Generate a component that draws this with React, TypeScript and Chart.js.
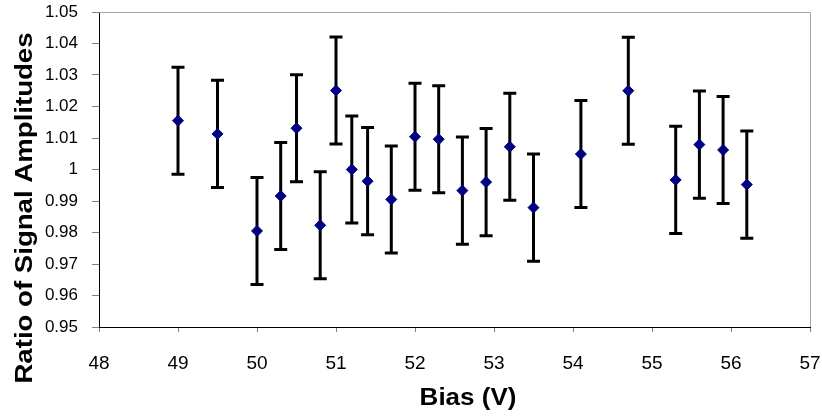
import React, { useEffect, useRef } from "react";
import { Chart, registerables } from "chart.js";

Chart.register(...registerables);

const biasValues = [49, 49.5, 50, 50.3, 50.5, 50.8, 51, 51.2, 51.4, 51.7, 52, 52.3, 52.6, 52.9, 53.2, 53.5, 54.1, 54.7, 55.3, 55.6, 55.9, 56.2];
const ratioValues = [1.0155, 1.0113, 0.9805, 0.9916, 1.0131, 0.9823, 1.0251, 1.0, 0.9963, 0.9905, 1.0104, 1.0096, 0.9933, 0.996, 1.0072, 0.9879, 1.0049, 1.025, 0.9967, 1.0079, 1.0062, 0.9952];
const ratioErrors = [0.017, 0.017, 0.017, 0.017, 0.017, 0.017, 0.017, 0.017, 0.017, 0.017, 0.017, 0.017, 0.017, 0.017, 0.017, 0.017, 0.017, 0.017, 0.017, 0.017, 0.017, 0.017];
const xTickValues = [48, 49, 50, 51, 52, 53, 54, 55, 56, 57];
const yTickValues = [0.95, 0.96, 0.97, 0.98, 0.99, 1.0, 1.01, 1.02, 1.03, 1.04, 1.05];
const xTitle = "Bias (V)";
const yTitle = "Ratio of Signal Amplitudes";

const FONT = '"Liberation Sans", Arial, Helvetica, sans-serif';

const errorBarPlugin = {
  id: "errorBars",
  beforeDatasetsDraw(chart: any) {
    const ctx = chart.ctx;
    const xs = chart.scales.x;
    const ys = chart.scales.y;
    ctx.save();
    ctx.strokeStyle = "#000000";
    ctx.lineWidth = 3;
    ctx.lineCap = "butt";
    for (let i = 0; i < biasValues.length; i++) {
      const px = xs.getPixelForValue(biasValues[i]);
      const top = ys.getPixelForValue(ratioValues[i] + ratioErrors[i]);
      const bot = ys.getPixelForValue(ratioValues[i] - ratioErrors[i]);
      ctx.beginPath();
      ctx.moveTo(px, top);
      ctx.lineTo(px, bot);
      ctx.moveTo(px - 6.5, top);
      ctx.lineTo(px + 6.5, top);
      ctx.moveTo(px - 6.5, bot);
      ctx.lineTo(px + 6.5, bot);
      ctx.stroke();
    }
    ctx.restore();
  },
};

const framePlugin = {
  id: "frameAndTitles",
  afterDraw(chart: any) {
    const ctx = chart.ctx;
    const a = chart.chartArea;
    ctx.save();
    ctx.strokeStyle = "#a6a6a6";
    ctx.lineWidth = 1;
    ctx.beginPath();
    ctx.moveTo(a.left, a.top + 0.5);
    ctx.lineTo(a.right + 0.5, a.top + 0.5);
    ctx.lineTo(a.right + 0.5, a.bottom);
    ctx.stroke();

    ctx.fillStyle = "#000000";
    ctx.font = "bold 23px " + FONT;
    ctx.textAlign = "center";
    ctx.textBaseline = "alphabetic";
    // x title
    ctx.save();
    ctx.translate(468, 405);
    ctx.scale(1.13, 1);
    ctx.fillText(xTitle, 0, 0);
    ctx.restore();
    // y title
    ctx.save();
    ctx.translate(32, 208);
    ctx.rotate(-Math.PI / 2);
    ctx.scale(1.2, 1);
    ctx.fillText(yTitle, 0, 0);
    ctx.restore();
    ctx.restore();
  },
};

const zeroPadding = (scale: any) => {
  scale.paddingTop = 0;
  scale.paddingBottom = 0;
  scale.paddingLeft = 0;
  scale.paddingRight = 0;
};

export default function App() {
  const canvasRef = useRef<HTMLCanvasElement>(null);

  useEffect(() => {
    document.body.style.margin = "0";
    const canvas = canvasRef.current;
    if (!canvas) return;
    const chart = new Chart(canvas, {
      type: "scatter",
      data: {
        datasets: [
          {
            label: "Ratio",
            data: biasValues.map((x, i) => ({ x, y: ratioValues[i] })),
            pointStyle: "rectRot",
            pointRadius: 5.5,
            pointHoverRadius: 5.5,
            backgroundColor: "#000080",
            borderColor: "#000080",
            borderWidth: 1,
            showLine: false,
          },
        ],
      },
      options: {
        responsive: false,
        animation: false,
        devicePixelRatio: 1,
        layout: { padding: { left: 0, top: 12, right: 12, bottom: 0 } },
        plugins: {
          legend: { display: false },
          tooltip: { enabled: false },
          title: { display: false },
        },
        scales: {
          x: {
            type: "linear",
            min: 48,
            max: 57,
            afterBuildTicks: (scale: any) => {
              scale.ticks = xTickValues.map((v) => ({ value: v }));
            },
            afterFit: (scale: any) => {
              scale.height = 90;
              zeroPadding(scale);
            },
            grid: {
              drawOnChartArea: false,
              drawTicks: true,
              tickLength: 5,
              color: "#808080",
            },
            border: { display: true, color: "#000000", width: 1 },
            ticks: {
              color: "#000000",
              font: { family: FONT, size: 19 },
              padding: 20,
              maxRotation: 0,
              autoSkip: false,
              callback: (v: any) => String(v),
            },
          },
          y: {
            type: "linear",
            min: 0.95,
            max: 1.05,
            afterBuildTicks: (scale: any) => {
              scale.ticks = yTickValues.map((v) => ({ value: v }));
            },
            afterFit: (scale: any) => {
              scale.width = 99;
              zeroPadding(scale);
            },
            grid: {
              drawOnChartArea: false,
              drawTicks: true,
              tickLength: 7,
              color: "#808080",
            },
            border: { display: true, color: "#000000", width: 1 },
            ticks: {
              color: "#000000",
              font: { family: FONT, size: 17 },
              padding: 14,
              autoSkip: false,
              callback: (v: any) => String(Number(Number(v).toFixed(2))),
            },
          },
        },
      },
      plugins: [errorBarPlugin, framePlugin],
    });
    return () => chart.destroy();
  }, []);

  return (
    <div style={{ width: 822, height: 417 }}>
      <canvas ref={canvasRef} width={822} height={417} style={{ display: "block" }} />
    </div>
  );
}
